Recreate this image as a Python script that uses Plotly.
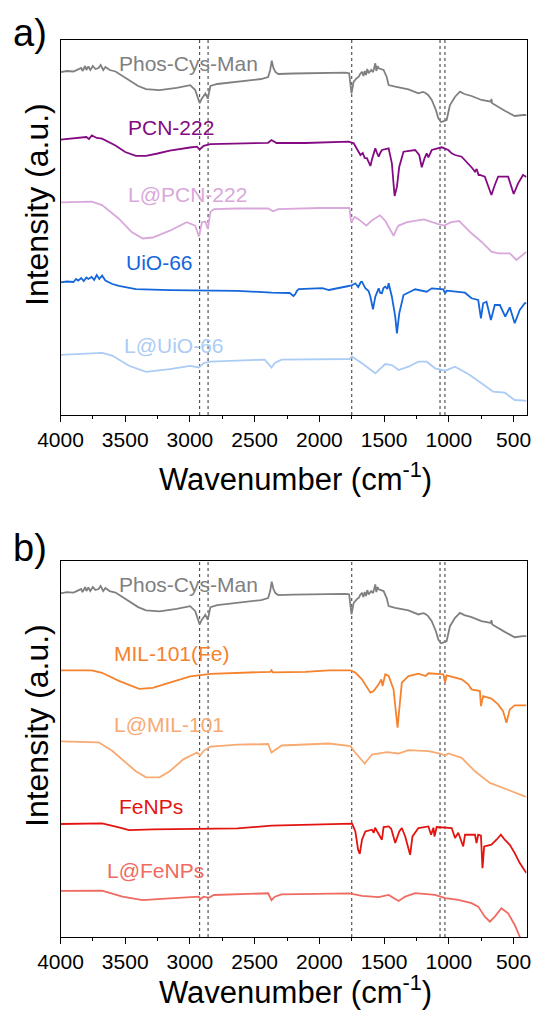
import plotly.graph_objects as go

# ---------------- data (wavenumber cm-1, intensity a.u. incl. stacking offset) -------------
phos_wn = [4000, 3950, 3900, 3863, 3840, 3830, 3810, 3800, 3785, 3770, 3750, 3730, 3706, 3690, 3670, 3653,
           3620, 3575, 3470, 3400, 3339, 3235, 3103, 2998, 2959, 2940, 2925, 2910, 2899, 2881, 2862, 2842,
           2789, 2632, 2450, 2396, 2380, 2368, 2355, 2340, 2318, 2200, 2000, 1800, 1770, 1752, 1740, 1735,
           1710, 1696, 1685, 1671, 1660, 1650, 1640, 1630, 1619, 1600, 1585, 1575, 1568, 1560, 1550, 1542,
           1504, 1480, 1465, 1414, 1312, 1235, 1200, 1183, 1160, 1132, 1100, 1081, 1060, 1050, 1030, 1017,
           1000, 991, 952, 914, 880, 825, 748, 675, 671, 665, 568, 491, 427, 400]
phos_i = [342.8, 344, 343.5, 345.2, 347, 344, 349, 345, 348.6, 345, 349, 346, 347, 350, 345, 348,
          345, 343.5, 335, 329, 325.8, 324.8, 327.2, 329.9, 325, 318, 311.8, 316, 318, 321.4, 316.3, 329,
          331, 333, 336, 338, 345, 354.4, 347, 343, 341, 341.5, 342, 342.3, 341.7, 321.7, 330, 333.3,
          337, 338.3, 341, 343.3, 339, 344, 340, 346, 341.7, 345, 343, 350, 351.7, 344, 349, 346.7,
          345, 338, 330, 328.3, 325.7, 321.7, 323, 322.3, 320, 315, 305, 296.7, 293, 293.3, 294, 295,
          305, 310, 318.3, 323.3, 321, 319, 315, 313.3, 316, 311.7, 304.3, 299, 300, 300]

pcn_wn = [4000, 3900, 3863, 3800, 3780, 3758, 3720, 3679, 3575, 3500, 3418, 3339, 3250, 3156, 3000, 2946,
          2925, 2894, 2842, 2632, 2396, 2370, 2331, 2108, 1927, 1773, 1735, 1710, 1683, 1665, 1650, 1632,
          1606, 1595, 1581, 1568, 1555, 1542, 1530, 1517, 1465, 1440, 1425, 1419, 1401, 1383, 1350, 1260,
          1229, 1209, 1188, 1171, 1158, 1132, 1055, 1004, 978, 952, 901, 850, 820, 798, 785, 770, 760,
          722, 696, 671, 645, 619, 542, 517, 499, 465, 427, 400]
pcn_i = [275.3, 276.5, 277.3, 278, 276, 279.5, 277, 276.3, 269.5, 263, 259.2, 259.2, 261.5, 264.4, 267.5, 268.4,
         265.5, 269.1, 270.8, 271.8, 272.2, 275, 272, 272, 272.7, 273.3, 271.7, 266, 260, 262, 257, 256.7,
         249, 255, 260, 266.7, 262, 258.3, 262, 265, 266.7, 251.7, 228, 219, 228.3, 248.3, 263.3, 265,
         260, 247.7, 256.7, 261.7, 257.7, 265, 267.7, 265, 261.7, 260, 258.3, 251.7, 247, 243.3, 246, 240, 240,
         238.3, 228.3, 220, 230, 238.3, 238.3, 228.3, 221, 231.7, 240, 238]

lpcn_wn = [4000, 3900, 3758, 3679, 3549, 3450, 3365, 3287, 3156, 3025, 2959, 2931, 2907, 2881, 2862, 2842,
           2815, 2632, 2396, 2357, 2318, 2000, 1768, 1755, 1728, 1700, 1637, 1600, 1560, 1532, 1490, 1427,
           1400, 1388, 1322, 1192, 1087, 1035, 982, 920, 825, 748, 671, 619, 529, 478, 414, 400]
lpcn_i = [212.6, 213, 213.3, 209.9, 196.3, 183, 176.5, 177.5, 184.3, 192.8, 189.4, 178.5, 192.8, 193.5, 186, 203.1,
          205.8, 206.5, 206.5, 203.7, 205.8, 207, 207.2, 192.8, 198, 196, 189.4, 194, 197, 199.7, 194, 179.2,
          187, 189.4, 192.8, 195.6, 191.1, 189.4, 192.8, 194, 181.7, 173.3, 163.3, 161.7, 161.7, 155, 161.7, 163]

uio_wn = [4000, 3950, 3900, 3880, 3863, 3840, 3820, 3800, 3785, 3760, 3740, 3720, 3700, 3679, 3653, 3600,
          3549, 3418, 3156, 2894, 2632, 2370, 2230, 2200, 2187, 2175, 2160, 1977, 1927, 1773, 1745, 1722,
          1700, 1680, 1671, 1645, 1620, 1606, 1586, 1568, 1555, 1542, 1530, 1517, 1505, 1491, 1475, 1465,
          1440, 1414, 1401, 1383, 1350, 1260, 1171, 1132, 1042, 1029, 1017, 875, 825, 773, 752, 735, 709,
          675, 645, 606, 564, 529, 491, 452, 414, 400]
uio_i = [132.7, 133.5, 133, 136, 134.4, 137, 134, 137.5, 136, 138, 135, 140, 136, 139.5, 134.4, 131,
         129.2, 125.8, 124.8, 124.8, 124.1, 122.4, 122, 119, 120.7, 124, 125.8, 126.9, 125, 129, 130, 131.7,
         128, 133, 133.3, 126.7, 124, 118.3, 105.7, 118.3, 122, 126.7, 122, 121.7, 127, 128.3, 126, 131.7,
         118.3, 98.3, 81.7, 101.7, 120, 125.7, 123.3, 126.7, 125.7, 121.7, 124.3, 122.3, 116.7, 115, 96.7, 111.7, 113.3,
         95, 110, 110, 98.3, 107.7, 91.7, 105, 111.7, 112]

luio_wn = [4000, 3800, 3679, 3601, 3470, 3339, 3156, 2998, 2931, 2894, 2842, 2422, 2370, 2344, 2292, 1768,
           1747, 1671, 1568, 1491, 1440, 1388, 1312, 1235, 1171, 1106, 1029, 952, 850, 748, 658, 568, 491, 414, 400]
luio_i = [60.1, 61.5, 62.2, 59.4, 49.2, 43.1, 45.8, 49.2, 47.5, 52, 53.3, 55.4, 47.5, 52, 55.4, 56,
          58.3, 51.7, 41.7, 51, 50, 45, 48.3, 53.3, 53.3, 46.7, 44.3, 48.3, 41, 31.7, 23.3, 22.3, 15, 14.3, 14]

mil_wn = [4000, 3758, 3679, 3549, 3392, 3287, 3156, 2998, 2842, 2632, 2380, 2370, 2360, 2108, 1927, 1760,
          1722, 1671, 1632, 1606, 1581, 1542, 1522, 1512, 1491, 1465, 1427, 1406, 1396, 1383, 1363, 1312,
          1235, 1179, 1158, 1042, 1029, 1017, 901, 850, 825, 760, 752, 735, 671, 619, 581, 555, 529, 491, 414, 400]
mil_i = [266, 266, 263.5, 255.5, 247.5, 248.5, 253.8, 260, 262.5, 263.5, 264.5, 266, 264, 264.5, 266, 266,
         263.7, 257, 248.7, 243.7, 245.3, 252, 257, 250.3, 262, 260.3, 247, 220.3, 208.7, 227, 253.7, 260.3,
         262.7, 260.3, 263, 262, 253.7, 261, 257, 252, 247, 245.3, 230.3, 240.3, 237.7, 232, 225.3, 213.7, 227, 231, 231, 231]

lmil_wn = [4000, 3706, 3601, 3418, 3339, 3235, 3156, 3051, 2946, 2920, 2894, 2842, 2632, 2396, 2370, 2339,
           2292, 1927, 1760, 1722, 1650, 1594, 1478, 1388, 1312, 1158, 1068, 1029, 1004, 901, 798, 683, 568, 414, 400]
lmil_i = [195.2, 194.2, 185.7, 165.3, 159.2, 159.2, 165.3, 177.2, 184, 181, 185.7, 189.8, 191.8, 192.5, 184, 187,
          191, 193, 190.3, 183.7, 173, 182, 184.3, 183, 186.3, 185.3, 183, 181, 183, 178.7, 165.3, 153.7, 147.7, 140.3, 140]

fe_wn = [4000, 3800, 3679, 3549, 3470, 3287, 2894, 2632, 2370, 1927, 1747, 1722, 1701, 1688, 1671, 1645,
         1594, 1580, 1570, 1517, 1504, 1465, 1445, 1414, 1383, 1363, 1337, 1299, 1281, 1235, 1158, 1137,
         1119, 1111, 1094, 978, 952, 927, 889, 875, 798, 786, 773, 752, 740, 727, 671, 632, 598, 568, 529,
         491, 452, 414, 400]
fe_i = [112.7, 113, 113.4, 109.3, 106.6, 107.3, 108.3, 108.3, 111, 112, 113, 105.3, 87, 83, 97, 105.3,
        107, 104, 109, 97, 109.7, 110.3, 108, 93.7, 105.3, 108.7, 100.3, 82, 100.3, 108.7, 110.3, 102,
        109, 100.3, 109.7, 108.7, 98.7, 104, 90.3, 102, 102, 93.7, 102, 101, 68.7, 90.3, 92, 97, 102, 97, 92,
        83.7, 73.7, 66.3, 64]

lfe_wn = [4000, 3679, 3522, 3365, 3156, 2931, 2920, 2894, 2855, 2815, 2396, 2370, 2344, 2292, 1768, 1747,
          1671, 1542, 1504, 1465, 1388, 1337, 1260, 1106, 1029, 927, 825, 773, 722, 683, 645, 594, 542, 491, 452, 420]
lfe_i = [46, 46.3, 40.2, 36.8, 38.5, 40.2, 37.8, 40.2, 39, 41.9, 43.6, 36.8, 40.2, 42.6, 43.6, 43,
         41, 39.7, 41, 42, 36, 40.3, 43.7, 42, 38.7, 37, 33.7, 30.3, 20.3, 15.3, 20.3, 28.7, 23.7, 12, 0.3, -12]

marker_wn = [2925, 2860, 1750, 1068, 1030]

panel_a = [("Phos-Cys-Man", phos_wn, phos_i, "#808080", 3565, 352),
           ("PCN-222", pcn_wn, pcn_i, "#840A84", 3496, 288),
           ("L@PCN-222", lpcn_wn, lpcn_i, "#D9A8DB", 3496, 221),
           ("UiO-66", uio_wn, uio_i, "#1565DB", 3512, 153),
           ("L@UiO-66", luio_wn, luio_i, "#ABCCF4", 3522, 70)]
panel_b = [("Phos-Cys-Man", phos_wn, phos_i, "#808080", 3565, 352),
           ("MIL-101(Fe)", mil_wn, mil_i, "#F5822C", 3601, 283),
           ("L@MIL-101", lmil_wn, lmil_i, "#F8AA72", 3601, 212),
           ("FeNPs", fe_wn, fe_i, "#E3140F", 3562, 130.5),
           ("L@FeNPs", lfe_wn, lfe_i, "#EF6A60", 3658, 66.5)]

# ---------------- figure -------------
W, H = 534, 1010
FONT = "Liberation Sans, Arial, sans-serif"
fig = go.Figure()

xdom = [60.5 / W, 526.5 / W]
ydom_a = [1 - 415 / H, 1 - 40 / H]
ydom_b = [1 - 937 / H, 1 - 561 / H]

annotations = []
shapes = []
for k, (panel, ydom) in enumerate([(panel_a, ydom_a), (panel_b, ydom_b)]):
    xa = "x" if k == 0 else "x2"
    ya = "y" if k == 0 else "y2"
    for name, wn, inten, col, lx, ly in panel:
        fig.add_trace(go.Scatter(x=wn, y=inten, mode="lines", name=name, xaxis=xa, yaxis=ya,
                                 line=dict(color=col, width=1.8), showlegend=False))
        annotations.append(dict(x=lx, y=ly, xref=xa, yref=ya, text=name, showarrow=False,
                                xanchor="left", yanchor="middle",
                                font=dict(family=FONT, size=21, color=col)))
    for m in marker_wn:
        shapes.append(dict(type="line", xref=xa, yref=ya + " domain", x0=m, x1=m, y0=0, y1=1,
                           line=dict(color="#333333", width=1, dash="dot"), layer="below"))

axis_x = dict(range=[4000, 400], domain=xdom, showgrid=False, zeroline=False, showline=True,
              mirror=True, linecolor="black", linewidth=1.3, ticks="outside", ticklen=6, tickwidth=1.2,
              tickcolor="black", tickvals=[4000, 3500, 3000, 2500, 2000, 1500, 1000, 500],
              minor=dict(tickvals=[3750, 3250, 2750, 2250, 1750, 1250, 750], ticks="outside",
                         ticklen=3, tickcolor="black", tickwidth=1.2),
              automargin=False,
              tickfont=dict(family=FONT, size=21, color="black"))
axis_y = dict(range=[0, 375], showgrid=False, zeroline=False, showline=True, mirror=True,
              linecolor="black", linewidth=1.3, ticks="", showticklabels=False, automargin=False)

fig.update_layout(
    width=W, height=H, margin=dict(l=0, r=0, t=0, b=0, autoexpand=False),
    paper_bgcolor="white", plot_bgcolor="white",
    xaxis=dict(axis_x, anchor="y"),
    yaxis=dict(axis_y, domain=ydom_a, anchor="x"),
    xaxis2=dict(axis_x, anchor="y2"),
    yaxis2=dict(axis_y, domain=ydom_b, anchor="x2"),
    shapes=shapes,
)

for letter, py_letter, py_title, py_ytitle in [("a)", 33, 477, 205), ("b)", 548, 990, 726)]:
    annotations.append(dict(x=30 / W, y=1 - py_letter / H, xref="paper", yref="paper", text=letter,
                            showarrow=False, xanchor="center", yanchor="middle",
                            font=dict(family=FONT, size=38, color="black")))
    annotations.append(dict(x=295 / W, y=1 - py_title / H, xref="paper", yref="paper",
                            text="Wavenumber (cm<sup>-1</sup>)", showarrow=False,
                            xanchor="center", yanchor="middle",
                            font=dict(family=FONT, size=31, color="black")))
    annotations.append(dict(x=37 / W, y=1 - py_ytitle / H, xref="paper", yref="paper",
                            text="Intensity (a.u.)", textangle=-90, showarrow=False,
                            xanchor="center", yanchor="middle",
                            font=dict(family=FONT, size=32, color="black")))

fig.update_layout(annotations=annotations)
fig.write_html("out.html", config={"displayModeBar": False},
               post_script="document.body.style.margin='0';document.body.style.overflow='hidden';")
